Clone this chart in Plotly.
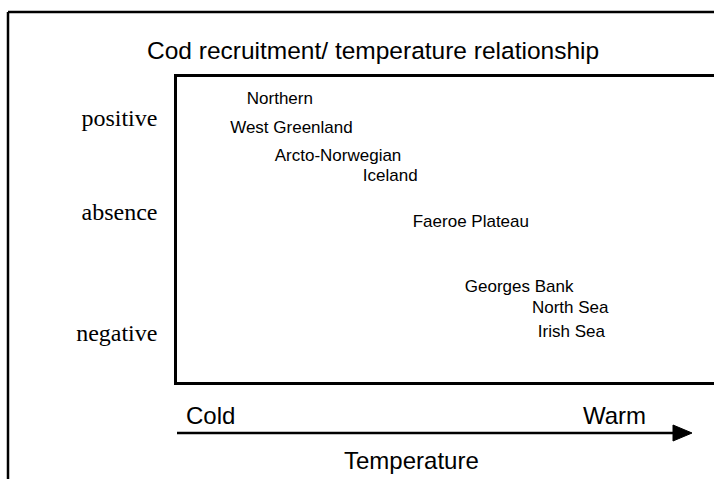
import plotly.graph_objects as go

# ---- data ----
stocks = ["Northern", "West Greenland", "Arcto-Norwegian", "Iceland",
          "Faeroe Plateau", "Georges Bank", "North Sea", "Irish Sea"]
temperature_index = [1.30, 0.99, 1.82, 3.46, 4.39, 5.36, 6.61, 6.72]
recruit_effect = [1.19, 0.89, 0.585, 0.37, -0.11, -0.81, -1.03, -1.29]
ytick_vals = [1.0, 0.0, -1.28]
ytick_labels = ["positive", "absence", "negative"]
x_range = [0, 10]
y_range = [-1.809, 1.436]

W, H = 714, 479
L, R, T, B = 177, 0, 77, 97
PW, PH = W - L - R, H - T - B


def xp(px):
    return (px - L) / PW


def yp(py):
    return (H - B - py) / PH


SANS = "Liberation Sans, Arial, sans-serif"
SERIF = "Liberation Serif, Times New Roman, serif"

fig = go.Figure()
fig.add_trace(go.Scatter(
    x=temperature_index, y=recruit_effect, text=stocks,
    mode="text", textposition="middle right",
    textfont=dict(family=SANS, size=17, color="black"),
    hoverinfo="text", showlegend=False, cliponaxis=False,
))

shapes = [
    # outer frame (left and top edges)
    dict(type="line", xref="paper", yref="paper", x0=xp(8), x1=xp(W + 5),
         y0=yp(12), y1=yp(12), line=dict(color="black", width=2.5)),
    dict(type="line", xref="paper", yref="paper", x0=xp(8), x1=xp(8),
         y0=yp(12), y1=yp(H + 5), line=dict(color="black", width=2.5)),
    # temperature arrow
    dict(type="line", xref="paper", yref="paper", x0=xp(177), x1=xp(678),
         y0=yp(433), y1=yp(433), line=dict(color="black", width=2.5)),
    dict(type="path", xref="paper", yref="paper",
         path=f"M {xp(673)} {yp(425)} L {xp(692)} {yp(433)} L {xp(673)} {yp(441)} Z",
         fillcolor="black", line=dict(color="black", width=1)),
]

annotations = [
    dict(text="Cod recruitment/ temperature relationship", x=xp(373), y=yp(51),
         xref="paper", yref="paper", showarrow=False, xanchor="center", yanchor="middle",
         font=dict(family=SANS, size=24.5, color="black")),
    dict(text="Cold", x=xp(184), y=yp(415), xref="paper", yref="paper", showarrow=False,
         xanchor="left", yanchor="middle", font=dict(family=SANS, size=24, color="black")),
    dict(text="Warm", x=xp(648), y=yp(415), xref="paper", yref="paper", showarrow=False,
         xanchor="right", yanchor="middle", font=dict(family=SANS, size=24, color="black")),
    dict(text="Temperature", x=xp(411), y=yp(460), xref="paper", yref="paper", showarrow=False,
         xanchor="center", yanchor="middle", font=dict(family=SANS, size=24, color="black")),
]

fig.update_layout(
    width=W, height=H,
    margin=dict(l=L, r=R, t=T, b=B, pad=0),
    paper_bgcolor="white", plot_bgcolor="white",
    shapes=shapes, annotations=annotations,
    xaxis=dict(range=x_range, showgrid=False, zeroline=False, showticklabels=False,
               ticks="", showline=True, linecolor="black", linewidth=2.5, mirror=True,
               fixedrange=True),
    yaxis=dict(range=y_range, showgrid=False, zeroline=False, tickvals=ytick_vals,
               ticktext=ytick_labels, ticks="outside", ticklen=12,
               tickcolor="rgba(0,0,0,0)", showline=True, linecolor="black",
               linewidth=2.5, mirror=False, fixedrange=True,
               tickfont=dict(family=SERIF, size=24, color="black")),
)

fig.write_html(
    "out.html",
    config={"displayModeBar": False},
    post_script="document.body.style.margin='0';document.body.style.overflow='hidden';",
)
